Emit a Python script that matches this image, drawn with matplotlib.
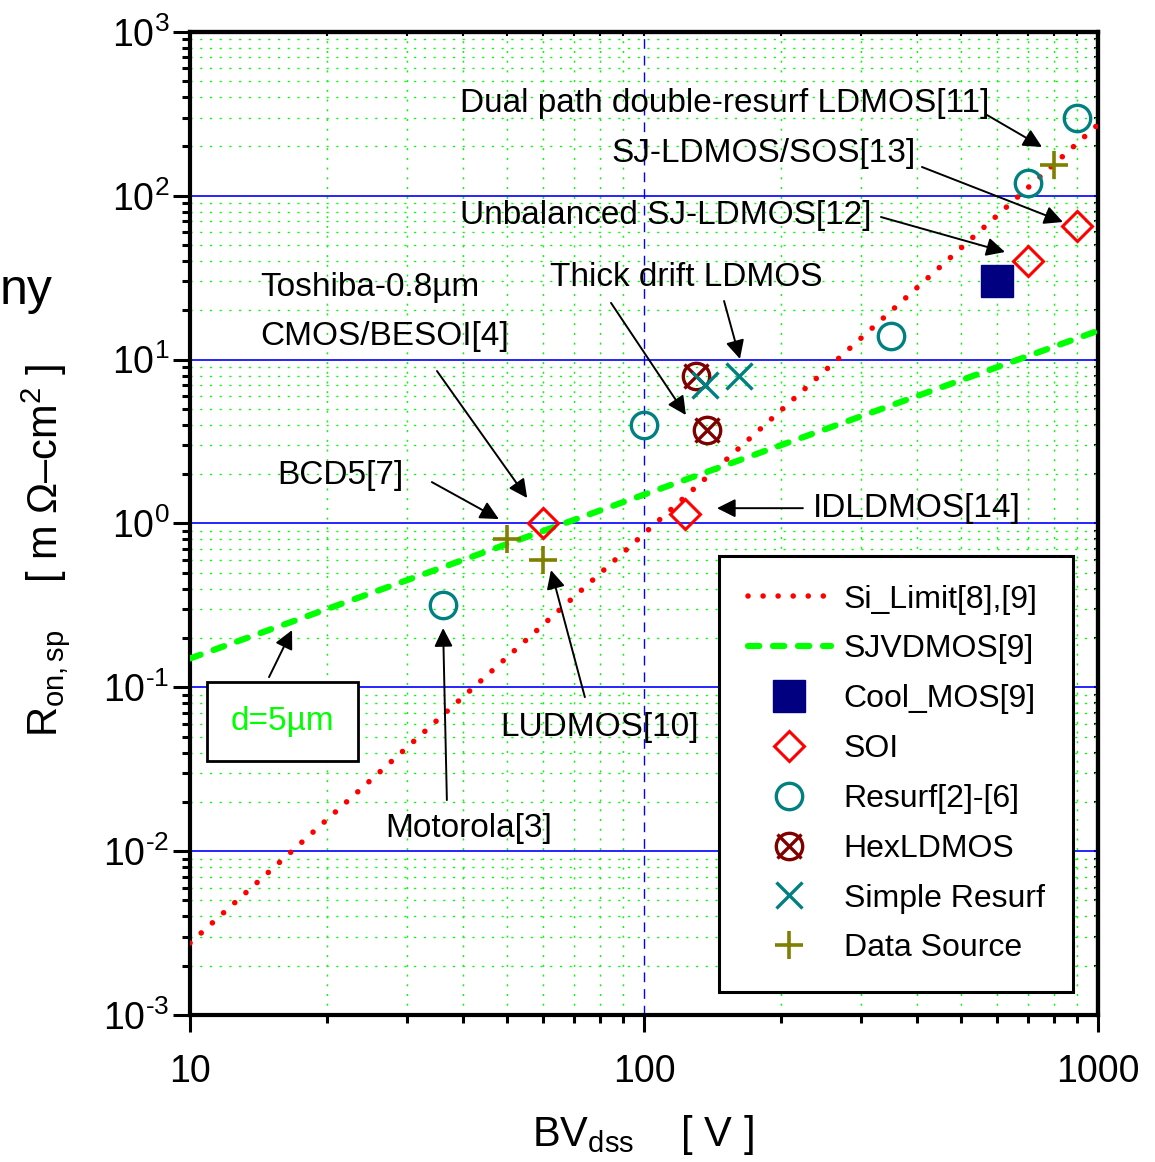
import matplotlib
matplotlib.use("Agg")
import matplotlib.pyplot as plt
from matplotlib.ticker import LogLocator, FixedLocator, NullFormatter

plt.rcParams['font.family'] = ['Liberation Sans', 'DejaVu Sans']
plt.rcParams['mathtext.fontset'] = 'custom'
plt.rcParams['mathtext.rm'] = 'Liberation Sans'
plt.rcParams['mathtext.it'] = 'Liberation Sans:italic'
plt.rcParams['mathtext.default'] = 'regular'

# datos (BV en V, Ron,sp en mOhm-cm2)
si_bv = [10, 1000]
si_r = [2.75e-3, 272]
sj_bv = [10, 1000]
sj_r = [0.15, 15]
cool_bv = [600]
cool_r = [30]
soi_bv = [60, 123, 700, 900]
soi_r = [1.0, 1.15, 40, 65]
resurf_bv = [36, 100, 350, 700, 900]
resurf_r = [0.32, 4.0, 14, 120, 300]
hex_bv = [130, 138]
hex_r = [8, 3.7]
simple_bv = [136, 162]
simple_r = [7, 8]
src_bv = [50, 60, 800]
src_r = [0.8, 0.6, 155]

y_exp = [-3, -2, -1, 0, 1, 2, 3]
x_ticks = [10, 100, 1000]

TEAL = '#008080'
DRED = '#800000'
OLIVE = '#808000'
NAVY = '#000080'

fig = plt.figure(figsize=(11.55, 11.62), dpi=100)
ax = fig.add_axes([0.1645, 0.1265, 0.7861, 0.846])
ax.set_xscale('log')
ax.set_yscale('log')
ax.set_xlim(10, 1000)
ax.set_ylim(1e-3, 1e3)

# rejilla
ax.grid(which='minor', color='#00ff00', linestyle=(0, (1.5, 5.5)), lw=1.0)
ax.yaxis.grid(which='major', color='#0000ff', linestyle='-', lw=1.2)
ax.xaxis.grid(which='major', color='#0000ff', linestyle=(0, (7, 5)), lw=1.0)
ax.set_axisbelow(True)

# lineas
l_si, = ax.plot(si_bv, si_r, color='red', lw=4.0, linestyle=(0, (0.01, 2.7)),
                dash_capstyle='round', label='Si_Limit[8],[9]', zorder=3)
l_sj, = ax.plot(sj_bv, sj_r, color='#00ff00', lw=4.5, linestyle=(0, (1.8, 2.2)),
                dash_capstyle='round', label='SJVDMOS[9]', zorder=3)

# marcadores
m_cool, = ax.plot(cool_bv, cool_r, 's', ms=23, color=NAVY, mec=NAVY,
                  linestyle='none', label='Cool_MOS[9]', zorder=4)
m_soi, = ax.plot(soi_bv, soi_r, 'D', ms=15, mfc='none', mec='red', mew=2.2,
                 linestyle='none', label='SOI', zorder=4)
m_res, = ax.plot(resurf_bv, resurf_r, 'o', ms=19, mfc='none', mec=TEAL, mew=2.4,
                 linestyle='none', label='Resurf[2]-[6]', zorder=4)
m_hex1, = ax.plot(hex_bv, hex_r, 'o', ms=19, mfc='none', mec=DRED, mew=2.4,
                  linestyle='none', zorder=4)
m_hex2, = ax.plot(hex_bv, hex_r, 'x', ms=17, mec=DRED, mew=2.4,
                  linestyle='none', zorder=4)
m_sim, = ax.plot(simple_bv, simple_r, 'x', ms=19, mec=TEAL, mew=2.4,
                 linestyle='none', label='Simple Resurf', zorder=4)
m_src, = ax.plot(src_bv, src_r, '+', ms=20, mec=OLIVE, mew=2.6,
                 linestyle='none', label='Data Source', zorder=4)

# ejes
for s in ax.spines.values():
    s.set_linewidth(3)
ax.xaxis.set_major_locator(FixedLocator(x_ticks))
ax.set_xticklabels([str(v) for v in x_ticks])
ax.xaxis.set_minor_locator(LogLocator(base=10, subs=range(2, 10)))
ax.xaxis.set_minor_formatter(NullFormatter())
ax.yaxis.set_major_locator(FixedLocator([10.0 ** e for e in y_exp]))
ax.set_yticklabels([r'$10^{%s}$' % (r'\text{-}%d' % -e if e < 0 else '%d' % e) for e in y_exp])
ax.yaxis.set_minor_locator(LogLocator(base=10, subs=range(2, 10), numticks=20))
ax.yaxis.set_minor_formatter(NullFormatter())
ax.tick_params(which='major', direction='out', length=12, width=2.2, labelsize=27)
ax.tick_params(which='minor', direction='out', length=6, width=2.2)
ax.tick_params(axis='x', which='major', pad=16)
ax.tick_params(axis='y', which='major', pad=3)

sec_y = ax.secondary_yaxis('right')
sec_y.tick_params(which='both', direction='in', length=3, width=1.5, labelright=False)
sec_y.yaxis.set_minor_locator(LogLocator(base=10, subs=range(2, 10), numticks=20))
sec_y.spines['right'].set_linewidth(3)
sec_x = ax.secondary_xaxis('top')
sec_x.tick_params(which='both', direction='in', length=3, width=1.5, labeltop=False)
sec_x.xaxis.set_minor_locator(LogLocator(base=10, subs=range(2, 10)))
sec_x.spines['top'].set_linewidth(3)

# etiquetas y flechas
fs = 24
ax.text(39.3, 368, 'Dual path double-resurf LDMOS[11]', fontsize=fs, va='center')
ax.text(85.0, 182, 'SJ-LDMOS/SOS[13]', fontsize=fs, va='center')
ax.text(39.3, 75.3, 'Unbalanced SJ-LDMOS[12]', fontsize=fs, va='center')
ax.text(62.1, 31.9, 'Thick drift LDMOS', fontsize=fs, va='center')
ax.text(14.3, 27.4, 'Toshiba-0.8µm', fontsize=fs, va='center')
ax.text(14.3, 13.9, 'CMOS/BESOI[4]', fontsize=fs, va='center')
ax.text(15.6, 1.97, 'BCD5[7]', fontsize=fs, va='center')
ax.text(235.6, 1.24, 'IDLDMOS[14]', fontsize=fs, va='center')
ax.text(48.2, 0.057, 'LUDMOS[10]', fontsize=fs, va='center')
ax.text(26.9, 0.0138, 'Motorola[3]', fontsize=fs, va='center')
ax.text(16.0, 0.062, 'd=5µm', fontsize=fs, va='center', ha='center', color='#00ff00',
        bbox=dict(boxstyle='square,pad=0.72', fc='white', ec='black', lw=2), zorder=5)

flechas = [
    ((569.6, 311.3), (752.9, 198.6)),
    ((409.6, 149.9), (837.3, 69.2)),
    ((332.7, 74.2), (624.2, 45.4)),
    ((84.6, 22.2), (123.7, 4.59)),
    ((150.1, 22.8), (162.7, 10.1)),
    ((35.0, 8.52), (55.3, 1.43)),
    ((34.1, 1.789), (47.9, 1.064)),
    ((223.9, 1.24), (144.8, 1.24)),
    ((74.1, 0.0871), (62.4, 0.519)),
    ((36.8, 0.0205), (36.1, 0.23)),
    ((14.93, 0.1154), (16.78, 0.2234)),
]
for cola, punta in flechas:
    ax.annotate('', xy=punta, xytext=cola,
                arrowprops=dict(arrowstyle='-|>', mutation_scale=28, lw=1.4,
                                color='black', shrinkA=0, shrinkB=0), zorder=6)

# leyenda
leg = ax.legend([l_si, l_sj, m_cool, m_soi, m_res, (m_hex1, m_hex2), m_sim, m_src],
                ['Si_Limit[8],[9]', 'SJVDMOS[9]', 'Cool_MOS[9]', 'SOI', 'Resurf[2]-[6]',
                 'HexLDMOS', 'Simple Resurf', 'Data Source'],
                loc='upper left', bbox_to_anchor=(0.5826, 0.467), borderaxespad=0,
                fontsize=23, handlelength=2.6, handletextpad=0.4, labelspacing=0.62,
                borderpad=0.9, fancybox=False, framealpha=1, edgecolor='black')
leg.get_frame().set_linewidth(2.2)
leg.set_zorder(7)

fig.text(0.039, 0.526, r'R$_{on,sp}$    [ m Ω–cm$^{2}$ ]', rotation=90, fontsize=30,
         ha='center', va='center')
fig.text(0.557, 0.023, r'BV$_{dss}$    [ V ]', fontsize=30, ha='center', va='center')
fig.text(0.0, 0.738, 'ny', fontsize=36, ha='left', va='baseline')

fig.savefig('out.png', dpi=100)
